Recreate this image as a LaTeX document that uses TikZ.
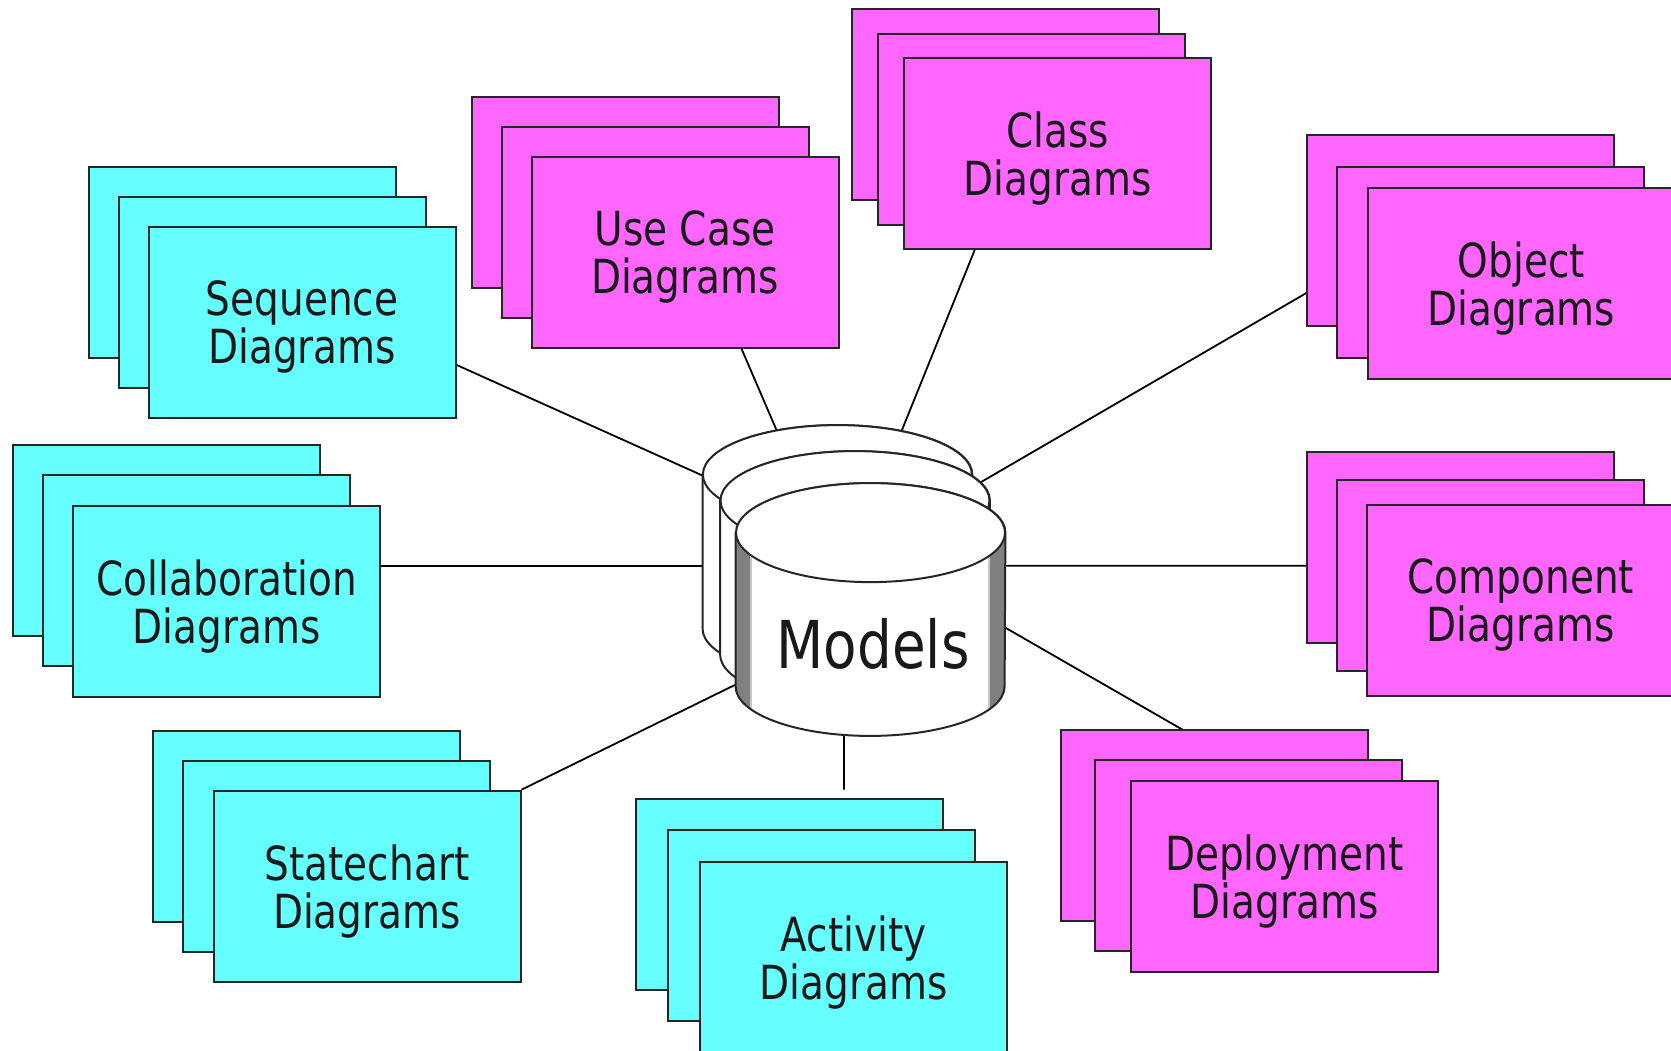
\documentclass[tikz,border=0pt]{standalone}
\usepackage{fontspec}
\setmainfont{DejaVu Sans}[FakeStretch=0.83]
\usepackage{tikz}
\usetikzlibrary{positioning, backgrounds, calc}
\definecolor{cyanfill}{RGB}{102,255,255}
\definecolor{pinkfill}{RGB}{255,102,255}
\tikzset{
  card/.style={draw=black!85, line width=1pt, minimum width=153.5pt, minimum height=95.5pt,
    inner sep=0pt, align=center, text=black!90, text depth=0pt,
    font=\fontsize{23.5pt}{24pt}\selectfont},
  cyancard/.style={card, fill=cyanfill},
  pinkcard/.style={card, fill=pinkfill},
  drum/.style={minimum width=134.5pt, minimum height=126pt, inner sep=0pt},
  drumline/.style={draw=black!85, line width=1pt},
  link/.style={draw=black, line width=0.9pt}
}
% outline of one drum (side walls plus bottom rim)
\newcommand{\drumpath}[1]{([yshift=-24.75pt]#1.north west) -- ([yshift=24.75pt]#1.south west)
  arc[start angle=180, end angle=360, x radius=67.25pt, y radius=24.75pt]
  -- ([yshift=-24.75pt]#1.north east)
  arc[start angle=0, end angle=180, x radius=67.25pt, y radius=24.75pt] -- cycle}

\begin{document}
\begin{tikzpicture}[x=0.5pt, y=-0.5pt]
  \useasboundingbox (0,0) rectangle (1671,1050);

  % diagram stacks
  \node[cyancard] (seqA) at (242.2,262.2) {};
  \node[cyancard] (seqB) at ([shift={(30,30)}]seqA.center) {};
  \node[cyancard] (seq)  at ([shift={(30,30)}]seqB.center) {Sequence\\Diagrams};

  \node[pinkcard] (useA) at (625,192.2) {};
  \node[pinkcard] (useB) at ([shift={(30,30)}]useA.center) {};
  \node[pinkcard] (use)  at ([shift={(30,30)}]useB.center) {Use Case\\Diagrams};

  \node[pinkcard] (clsA) at (1005.7,104.5) {};
  \node[pinkcard] (clsB) at ([shift={(26,25)}]clsA.center) {};
  \node[pinkcard] (cls)  at ([shift={(26,24)}]clsB.center) {Class\\Diagrams};

  \node[pinkcard] (objA) at (1460,230.9) {};
  \node[pinkcard] (objB) at ([shift={(30.3,31.1)}]objA.center) {};
  \node[pinkcard] (obj)  at ([shift={(31,21.7)}]objB.center) {Object\\Diagrams};

  \node[cyancard] (colA) at (166,540.8) {};
  \node[cyancard] (colB) at ([shift={(30.7,30)}]colA.center) {};
  \node[cyancard] (col)  at ([shift={(30,30.5)}]colB.center) {Collaboration\\Diagrams};

  \node[pinkcard] (compA) at (1460,547) {};
  \node[pinkcard] (compB) at ([shift={(30.3,28.3)}]compA.center) {};
  \node[pinkcard] (comp)  at ([shift={(30.5,25.2)}]compB.center) {Component\\Diagrams};

  \node[cyancard] (stA) at (306.3,826.2) {};
  \node[cyancard] (stB) at ([shift={(30,30)}]stA.center) {};
  \node[cyancard] (st)  at ([shift={(30.7,30)}]stB.center) {Statechart\\Diagrams};

  \node[cyancard] (actA) at (789.3,894.2) {};
  \node[cyancard] (actB) at ([shift={(32.4,31.6)}]actA.center) {};
  \node[cyancard] (act)  at ([shift={(32,32)}]actB.center) {Activity\\Diagrams};

  \node[pinkcard] (depA) at (1214.7,825.8) {};
  \node[pinkcard] (depB) at ([shift={(34,30)}]depA.center) {};
  \node[pinkcard] (dep)  at ([shift={(35.7,21)}]depB.center) {Deployment\\Diagrams};

  % model drums
  \node[drum] (cylA) at (837.4,551.5) {};
  \node[drum] (cylB) at ([shift={(17.6,26)}]cylA.center) {};
  \node[drum] (models) at ([shift={(15.5,32)}]cylB.center) {};

  \foreach \c in {cylA,cylB}{
    \draw[drumline, fill=white] \drumpath{\c};
    \draw[drumline, fill=white] ([yshift=-24.75pt]\c.north) ellipse[x radius=67.25pt, y radius=24.75pt];
  }
  \fill[white] \drumpath{models};
  \begin{scope}
    \clip \drumpath{models};
    \fill[black!50] (models.north west) rectangle ([xshift=7pt]models.south west);
    \fill[black!22] ([xshift=7pt]models.north west) rectangle ([xshift=8.2pt]models.south west);
    \fill[black!50] (models.north east) rectangle ([xshift=-7.5pt]models.south east);
    \fill[black!22] ([xshift=-7.5pt]models.north east) rectangle ([xshift=-8.7pt]models.south east);
  \end{scope}
  \draw[drumline] \drumpath{models};
  \draw[drumline, fill=white] ([yshift=-24.75pt]models.north) ellipse[x radius=67.25pt, y radius=24.75pt];
  \node[anchor=base, text=black!90, font=\fontsize{33pt}{33pt}\selectfont] (mtext)
    at ([shift={(2.5,58.8)}]models.center) {Models};

  \coordinate (actTop) at ([shift={(54.7,-8)}]actA.north);

  \begin{pgfonlayer}{background}
    \draw[link] ([shift={(0,42.8)}]seq.east) -- ([shift={(-77.4,-50.1)}]cylA.center);
    \draw[link] ([shift={(56.5,0)}]use.south) -- ([shift={(-43.7,-81.5)}]cylA.center);
    \draw[link] ([shift={(-83,0)}]cls.south) -- ([shift={(48.4,-81.5)}]cylA.center);
    \draw[link] ([shift={(0,-25.8)}]obj.west) -- ([shift={(95,-77.4)}]cylB.center);
    \draw[link] ([shift={(0,-35.6)}]col.east) -- ([shift={(-77.4,14.2)}]cylA.center);
    \draw[link] ([shift={(0,-34.8)}]comp.west) -- ([shift={(89.5,-43.8)}]models.center);
    \draw[link] (st.north east) -- ([shift={(-80.5,48.4)}]models.center);
    \draw[link] ([shift={(-26.5,-20)}]models.south) -- (actTop);
    \draw[link] ([shift={(19.8,-66.2)}]depA.center) -- ([shift={(109.5,3.6)}]models.center);
  \end{pgfonlayer}
\end{tikzpicture}
\end{document}
